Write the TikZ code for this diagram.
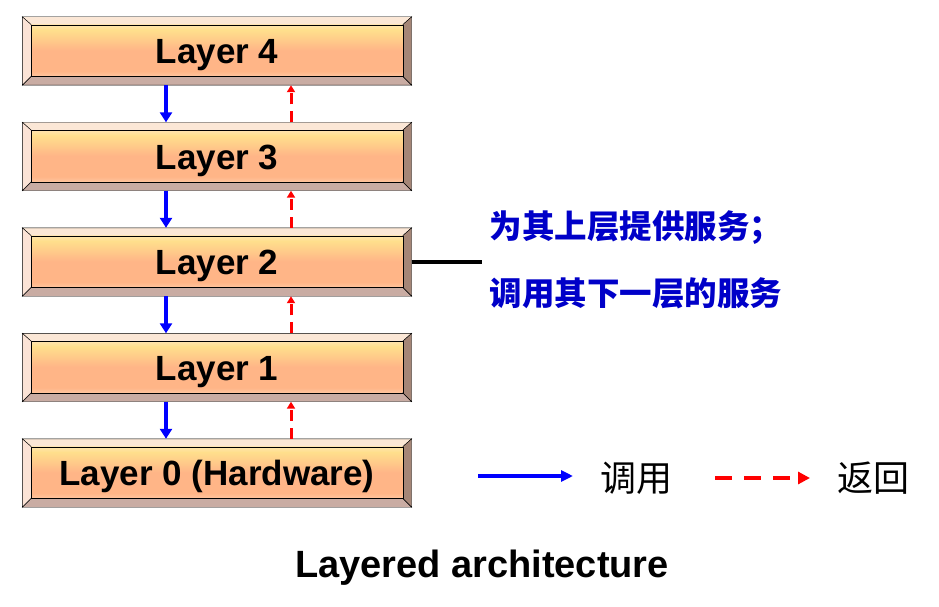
\documentclass[tikz,border=0pt]{standalone}
\usepackage{fontspec}
\setmainfont{Liberation Sans}
\newfontfamily\cjk{Noto Sans CJK SC}
\usepackage{tikz}
\usetikzlibrary{arrows.meta, calc, backgrounds}

\definecolor{bevtop}{HTML}{FBE7D6}
\definecolor{bevleft}{HTML}{FBE3D6}
\definecolor{bevright}{HTML}{A58677}
\definecolor{bevbot}{HTML}{C9ACA3}
\definecolor{bevline}{HTML}{3C3C3C}
\definecolor{sidetext}{HTML}{0000C8}
\pgfdeclareverticalshading{layershade}{100bp}{
  color(0bp)=(white!60!orange!40); color(12bp)=(white!60!orange!40);
  color(30bp)=(orange!45!pink!80!white); color(50bp)=(orange!45!pink!80!white);
  color(70bp)=(orange!55!yellow!45!white); color(84bp)=(pink!30!white);
  color(100bp)=(pink!30!white)}

\begin{document}
\begin{tikzpicture}[
    x=1pt, y=-1pt,
    font=\bfseries,
    % Styles
    layer/.style={minimum width=389pt, minimum height=68pt, inner sep=0pt, text height=25pt, text depth=0pt, font=\bfseries\fontsize{35}{40}\selectfont},
    callarrow/.style={-{Triangle[length=10pt,width=12pt]}, line width=4pt, blue},
    retarrow/.style={-{Triangle[length=7pt,width=8pt]}, line width=3pt, red, dash pattern=on 11pt off 7pt},
    cjktext/.style={font=\cjk\fontsize{36}{40}\selectfont, anchor=center}
  ]
  \useasboundingbox (0,0) rectangle (939,607);

  % --- Layer stack ---
  \foreach \i/\t in {4/Layer 4, 3/Layer 3, 2/Layer 2, 1/Layer 1, 0/Layer 0 (Hardware)} {
    \pgfmathsetmacro\yc{51+105.5*(4-\i)}
    \node[layer] (L\i) at (217,\yc) {\t};
    \begin{scope}[on background layer, draw=bevline, line width=1pt, line join=round]
      \filldraw[fill=bevtop] (L\i.north west) -- (L\i.north east) -- ($(L\i.north east)+(-9,8)$) -- ($(L\i.north west)+(9,8)$) -- cycle;
      \filldraw[fill=bevbot] (L\i.south west) -- (L\i.south east) -- ($(L\i.south east)+(-9,-9)$) -- ($(L\i.south west)+(9,-9)$) -- cycle;
      \filldraw[fill=bevleft] (L\i.north west) -- ($(L\i.north west)+(9,8)$) -- ($(L\i.south west)+(9,-9)$) -- (L\i.south west) -- cycle;
      \filldraw[fill=bevright] (L\i.north east) -- ($(L\i.north east)+(-9,8)$) -- ($(L\i.south east)+(-9,-9)$) -- (L\i.south east) -- cycle;
      \shade[shading=layershade] ($(L\i.north west)+(9,8)$) rectangle ($(L\i.south east)+(-9,-9)$);
      \draw ($(L\i.north west)+(9,8)$) rectangle ($(L\i.south east)+(-9,-9)$);
    \end{scope}
  }

  % Calls go down, returns come back up
  \coordinate (callx) at (166,0);
  \coordinate (retx) at (291,0);
  \foreach \a/\b in {4/3, 3/2, 2/1, 1/0} {
    \draw[callarrow] (L\a.south -| callx) -- (L\b.north -| callx);
    \draw[retarrow] (L\b.north -| retx) -- (L\a.south -| retx);
  }

  % --- Note on Layer 2 ---
  \coordinate (tick) at (482,262);
  \draw[line width=3.5pt] (L2.east) -- (tick);
  \node[anchor=west, sidetext, font=\cjk\bfseries\fontsize{32.5}{36}\selectfont] (up) at (486,228) {为其上层提供服务；};
  \node[anchor=west, sidetext, font=\cjk\bfseries\fontsize{32.5}{36}\selectfont] (down) at (486,293) {调用其下一层的服务};

  % --- Legend ---
  \coordinate (calla) at (478,476);
  \coordinate (callb) at (573,476);
  \coordinate (reta) at (715,478);
  \coordinate (retb) at (810,478);
  \draw[callarrow, -{Triangle[length=12pt,width=11pt]}] (calla) -- (callb);
  \draw[retarrow, -{Triangle[length=12pt,width=12pt]}, line width=4pt, dash pattern=on 17pt off 12pt] (reta) -- (retb);
  \node[cjktext] (calltext) at (636,478) {调用};
  \node[cjktext] (rettext) at (873,478) {返回};

  % --- Caption ---
  \node[font=\bfseries\fontsize{38}{44}\selectfont] (caption) at (482,568) {Layered architecture};
\end{tikzpicture}
\end{document}
